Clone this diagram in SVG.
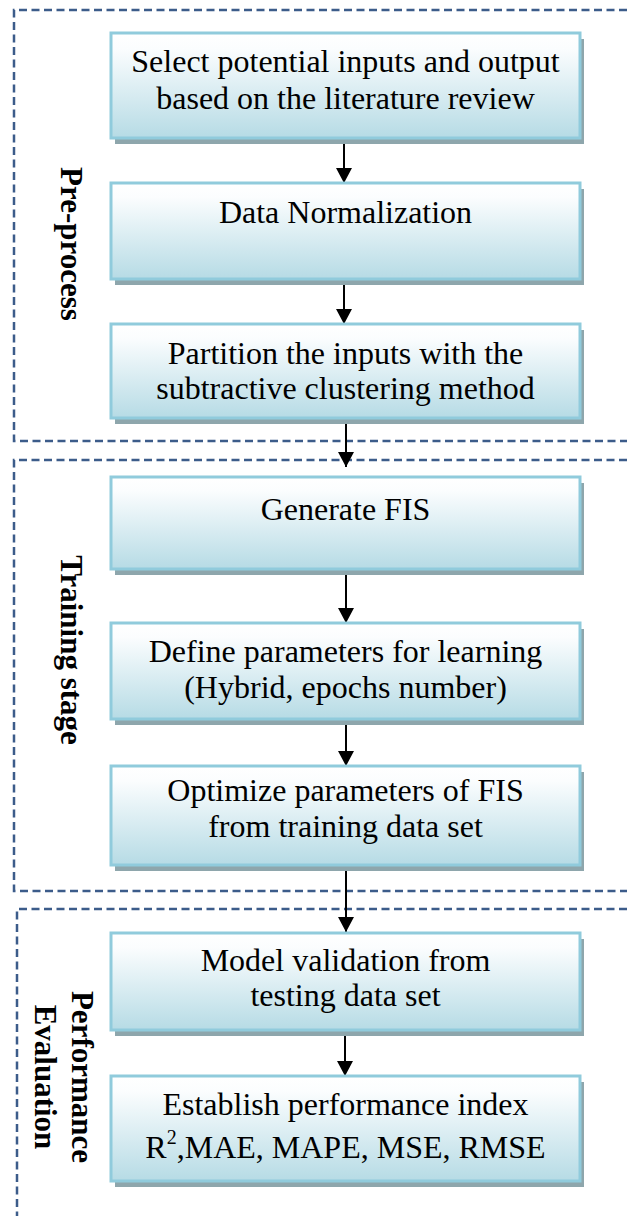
<svg xmlns="http://www.w3.org/2000/svg" width="627" height="1216" viewBox="0 0 627 1216">
<defs>
<linearGradient id="boxfill" x1="0" y1="0" x2="0" y2="1">
<stop offset="0" stop-color="#ffffff"/>
<stop offset="0.15" stop-color="#fbfdfe"/>
<stop offset="1" stop-color="#b6dbe5"/>
</linearGradient>
<marker id="ah" markerUnits="userSpaceOnUse" markerWidth="16" markerHeight="16" viewBox="0 0 16 16" refX="15" refY="8" orient="auto">
<path d="M0,0 L15,8 L0,16 Z" fill="#000"/>
</marker>
</defs>
<style>
.frame{fill:none;stroke:#3c5c8a;stroke-width:2.5;stroke-dasharray:8 4.5}
.shadow{fill:#8ea6ac}
.box{fill:url(#boxfill);stroke:#90cbdc;stroke-width:3}
.t{font-family:"Liberation Serif","Times New Roman",serif;font-size:32px;fill:#000;text-anchor:middle}
.lbl{font-family:"Liberation Serif","Times New Roman",serif;font-size:31px;font-weight:bold;fill:#000;text-anchor:middle}
.conn{stroke:#000;stroke-width:2;fill:none;marker-end:url(#ah)}
</style>
<g id="frames">
<path class="frame" d="M627,10 H14 V441 H627"/>
<path class="frame" d="M627,460 H14 V891 H627"/>
<path class="frame" d="M627,909 H17 V1216"/>
</g>
<g id="labels">
<text class="lbl" transform="translate(61,244) rotate(90)">Pre-process</text>
<text class="lbl" transform="translate(61,650) rotate(90)">Training stage</text>
<text class="lbl" transform="translate(72,1077) rotate(90)">Performance</text>
<text class="lbl" transform="translate(35,1077) rotate(90)">Evaluation</text>
</g>
<g id="connectors">
<line class="conn" x1="344" y1="139" x2="344" y2="183"/>
<line class="conn" x1="344" y1="280" x2="344" y2="324"/>
<line class="conn" x1="346" y1="420" x2="346" y2="467"/>
<line class="conn" x1="346" y1="571" x2="346" y2="623"/>
<line class="conn" x1="346" y1="721" x2="346" y2="766"/>
<line class="conn" x1="346" y1="867" x2="346" y2="932"/>
<line class="conn" x1="345" y1="1032" x2="345" y2="1076"/>
</g>
<g id="n1">
<rect class="shadow" x="115" y="39" width="469" height="105"/>
<rect class="box" x="111" y="33" width="469" height="105"/>
<text class="t" x="345.5" y="72">Select potential inputs and output</text>
<text class="t" x="345.5" y="109">based on the literature review</text>
</g>
<g id="n2">
<rect class="shadow" x="115" y="189" width="469" height="96"/>
<rect class="box" x="111" y="183" width="469" height="96"/>
<text class="t" x="345.5" y="223">Data Normalization</text>
</g>
<g id="n3">
<rect class="shadow" x="115" y="330" width="469" height="94"/>
<rect class="box" x="111" y="324" width="469" height="94"/>
<text class="t" x="345.5" y="364">Partition the inputs with the</text>
<text class="t" x="345.5" y="399">subtractive clustering method</text>
</g>
<g id="n4">
<rect class="shadow" x="115" y="483" width="469" height="92"/>
<rect class="box" x="111" y="477" width="469" height="92"/>
<text class="t" x="345.5" y="520">Generate FIS</text>
</g>
<g id="n5">
<rect class="shadow" x="115" y="629" width="469" height="96"/>
<rect class="box" x="111" y="623" width="469" height="96"/>
<text class="t" x="345.5" y="662">Define parameters for learning</text>
<text class="t" x="345.5" y="698">(Hybrid, epochs number)</text>
</g>
<g id="n6">
<rect class="shadow" x="115" y="772" width="469" height="99"/>
<rect class="box" x="111" y="766" width="469" height="99"/>
<text class="t" x="345.5" y="801">Optimize parameters of FIS</text>
<text class="t" x="345.5" y="837">from training data set</text>
</g>
<g id="n7">
<rect class="shadow" x="115" y="939" width="469" height="97"/>
<rect class="box" x="111" y="933" width="469" height="97"/>
<text class="t" x="345.5" y="971">Model validation from</text>
<text class="t" x="345.5" y="1006">testing data set</text>
</g>
<g id="n8">
<rect class="shadow" x="115" y="1082" width="469" height="105"/>
<rect class="box" x="111" y="1076" width="469" height="105"/>
<text class="t" x="345.5" y="1115">Establish performance index</text>
<text class="t" x="345.5" y="1158">R<tspan font-size="20" dy="-14">2</tspan><tspan dy="14">,MAE, MAPE, MSE, RMSE</tspan></text>
</g>
</svg>
